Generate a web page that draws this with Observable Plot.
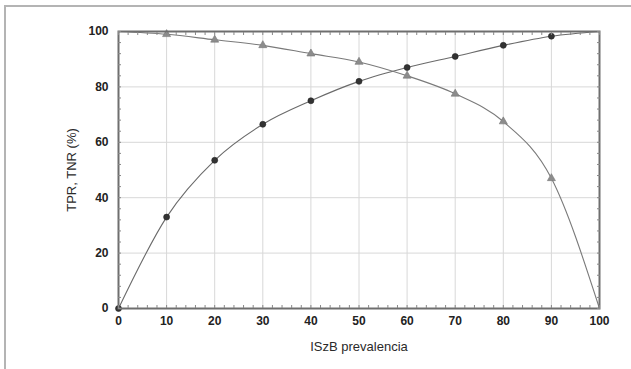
<!DOCTYPE html>
<html><head><meta charset="utf-8">
<script src="https://cdn.jsdelivr.net/npm/d3@7"></script>
<script src="https://cdn.jsdelivr.net/npm/@observablehq/plot@0.6"></script>
<style>
html,body{margin:0;padding:0;background:#fff;}
#wrap{position:relative;width:631px;height:369px;overflow:hidden;}
#frame{position:absolute;left:4px;top:5px;width:640px;height:400px;border:2px solid #b4b4b4;box-sizing:border-box;pointer-events:none;}
#chart{position:absolute;left:0;top:0;}
</style></head>
<body><div id="wrap"><div id="chart"></div><div id="frame"></div></div>
<script>
const prevalence = [0, 10, 20, 30, 40, 50, 60, 70, 80, 90, 100];
const tpr = [0, 33, 53.5, 66.5, 75, 82, 87, 91, 95, 98.3, 100];
const tnr = [100, 99, 97, 95, 92, 89, 84, 77.5, 67.5, 47, 0];
const markerX = [10, 20, 30, 40, 50, 60, 70, 80, 90];
const xTicks = [0, 10, 20, 30, 40, 50, 60, 70, 80, 90, 100];
const yTicks = [0, 20, 40, 60, 80, 100];

const tprData = prevalence.map((x, i) => ({x, y: tpr[i]}));
const tnrData = prevalence.map((x, i) => ({x, y: tnr[i]}));
const tprMarks = tprData.filter(d => d.x <= 90);
const tnrMarks = tnrData.filter(d => markerX.includes(d.x));

const chart = Plot.plot({
  width: 631, height: 369,
  marginLeft: 118, marginRight: 32, marginTop: 31, marginBottom: 61,
  style: {fontFamily: "Liberation Sans, Arial, sans-serif", background: "transparent"},
  x: {domain: [0, 100]},
  y: {domain: [0, 100]},
  marks: [
    Plot.gridX(xTicks, {stroke: "#d8d8d8", strokeOpacity: 1}),
    Plot.gridY(yTicks, {stroke: "#d8d8d8", strokeOpacity: 1}),
    Plot.line(tprData, {x: "x", y: "y", curve: "monotone-x", stroke: "#6a6a6a", strokeWidth: 1.1}),
    Plot.line(tnrData, {x: "x", y: "y", curve: "monotone-x", stroke: "#7a7a7a", strokeWidth: 1.1}),
    Plot.dot(tnrMarks, {x: "x", y: "y", symbol: "triangle", r: 3, fill: "#8c8c8c", stroke: "#777", strokeWidth: 0.6}),
    Plot.dot(tprMarks, {x: "x", y: "y", symbol: "circle", r: 3, fill: "#333", stroke: "#222", strokeWidth: 0.6}),
    Plot.frame({stroke: "#6e6e6e", strokeWidth: 2}),
    Plot.axisX(d3.range(0, 101, 2), {anchor: "bottom", tickSize: -3, text: null, stroke: "#888", label: null}),
    Plot.axisX(d3.range(0, 101, 2), {anchor: "top", tickSize: -3, text: null, stroke: "#888", label: null}),
    Plot.axisY(d3.range(0, 101, 4), {anchor: "left", tickSize: -3, text: null, stroke: "#888", label: null}),
    Plot.axisY(d3.range(0, 101, 4), {anchor: "right", tickSize: -3, text: null, stroke: "#888", label: null}),
    Plot.axisX(xTicks, {anchor: "bottom", tickSize: 0, tickPadding: 8, fontSize: 12, fontWeight: "bold", fill: "#222",
      label: "ISzB prevalencia", labelAnchor: "center", labelArrow: "none", labelOffset: 42}),
    Plot.axisY(yTicks, {anchor: "left", tickSize: 0, tickPadding: 10, fontSize: 12, fontWeight: "bold", fill: "#222",
      label: "TPR, TNR (%)", labelAnchor: "center", labelArrow: "none", labelOffset: 52})
  ]
});
document.getElementById("chart").appendChild(chart);
chart.querySelectorAll("g[aria-label='x-axis label'] text, g[aria-label='y-axis label'] text").forEach(t => {
  t.setAttribute("font-size", "13"); t.setAttribute("fill", "#2a2a2a"); t.setAttribute("font-weight", "normal");
});
</script></body></html>
